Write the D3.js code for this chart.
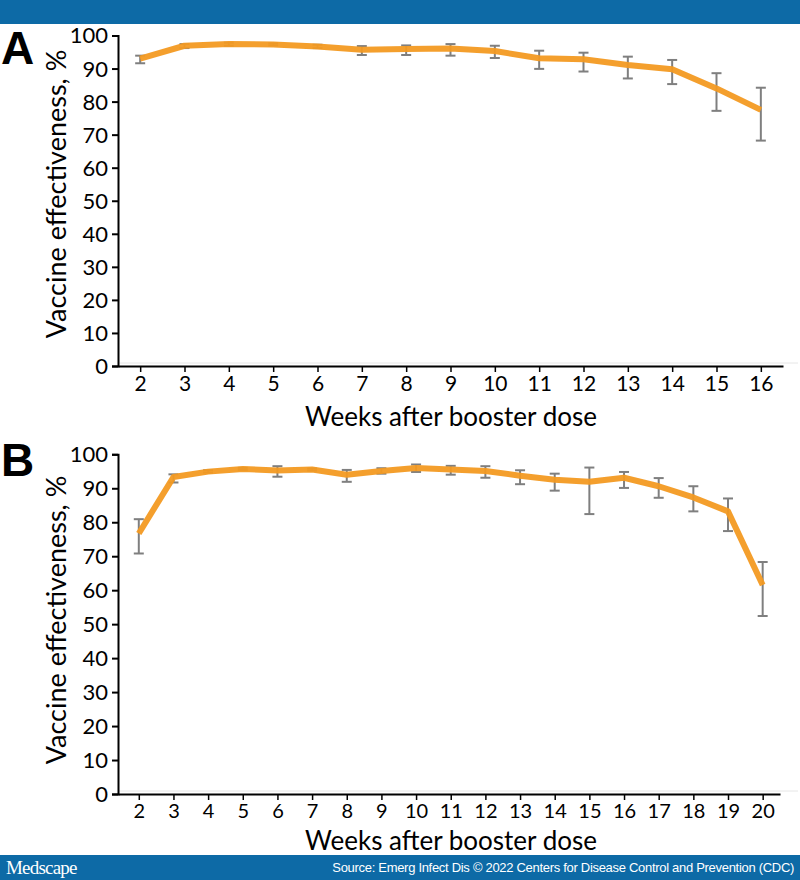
<!DOCTYPE html>
<html><head><meta charset="utf-8">
<script src="https://d3js.org/d3.v7.min.js"></script>
<style>body{margin:0;background:#fff}svg{display:block}</style>
</head><body>
<script>
// ---- Data ----
const weeksA = [2,3,4,5,6,7,8,9,10,11,12,13,14,15,16];
const veA    = [93.0,96.9,97.4,97.3,96.7,95.7,95.9,96.1,95.3,93.1,92.8,91.1,89.8,84.0,77.5];
const lowA   = [91.6,96.2,96.9,97.0,96.2,94.1,94.1,93.9,93.2,89.9,89.1,87.0,85.3,77.2,68.2];
const highA  = [93.9,97.4,97.8,97.6,97.2,96.8,97.0,97.4,96.9,95.4,94.8,93.6,92.6,88.6,84.2];

const weeksB = [2,3,4,5,6,7,8,9,10,11,12,13,14,15,16,17,18,19,20];
const veB    = [76.7,93.3,94.9,95.7,95.2,95.5,94.0,95.1,96.0,95.5,95.1,93.7,92.5,91.9,93.1,90.6,87.3,83.2,61.5];
const lowB   = [70.8,91.7,94.6,95.4,93.4,95.2,91.9,94.3,94.8,94.0,93.1,91.2,89.3,82.4,90.1,87.2,83.2,77.4,52.4];
const highB  = [80.9,94.1,95.3,96.0,96.5,95.8,95.4,95.9,97.0,96.6,96.5,95.3,94.3,96.1,94.8,93.0,90.6,87.0,68.3];

const yTicks = [0,10,20,30,40,50,60,70,80,90,100];
const yLabel = "Vaccine effectiveness, %";
const xLabel = "Weeks after booster dose";
const sourceText = "Source: Emerg Infect Dis © 2022 Centers for Disease Control and Prevention (CDC)";

const W = 800, H = 880;
const svg = d3.select("body").append("svg").attr("width", W).attr("height", H);
const FONT = "Lato, 'Open Sans', sans-serif";

// header / footer bars
svg.append("rect").attr("x",0).attr("y",0).attr("width",W).attr("height",24).attr("fill","#0d6aa6");
svg.append("rect").attr("x",0).attr("y",855).attr("width",W).attr("height",25).attr("fill","#0d6aa6");
svg.append("text").attr("x",6).attr("y",874).attr("fill","#fff")
  .attr("font-family","'Liberation Serif', serif").attr("font-size",19).attr("letter-spacing",-0.8).text("Medscape");
svg.append("text").attr("x",794).attr("y",872).attr("fill","#fff").attr("text-anchor","end")
  .attr("font-family","'Liberation Sans', Arial, sans-serif").attr("font-size",13).attr("letter-spacing",-0.3)
  .text(sourceText);

function panel(cfg){
  const {letter, letterY, weeks, ve, low, high, xDomain, xRange, yTop, yBottom, xLabelY, yLabelCY, tickFs} = cfg;
  const x = d3.scaleLinear().domain(xDomain).range(xRange);
  const y = d3.scaleLinear().domain([0,100]).range([yBottom, yTop]);
  const g = svg.append("g");

  g.append("text").attr("x",1).attr("y",letterY).attr("font-family","'Liberation Sans', Arial, sans-serif")
    .attr("font-weight","bold").attr("font-size",46).attr("fill","#000").text(letter);

  // faint zero reference line
  g.append("line").attr("x1",xRange[0]).attr("x2",798).attr("y1",y(0)-3).attr("y2",y(0)-3)
    .attr("stroke","#e6e6e6").attr("stroke-width",1);

  // y axis
  const ya = g.append("g").attr("transform",`translate(${xRange[0]},0)`)
    .call(d3.axisLeft(y).tickValues(yTicks).tickSize(6).tickPadding(4).tickSizeOuter(6));
  ya.select(".domain").attr("stroke","#000").attr("stroke-width",2);
  ya.selectAll(".tick line").attr("stroke","#000").attr("stroke-width",2);
  ya.selectAll(".tick text").attr("font-family",FONT).attr("font-size",22).attr("fill","#000").attr("dy","0.34em");

  // x axis
  const xa = g.append("g").attr("transform",`translate(0,${yBottom})`)
    .call(d3.axisBottom(x).tickValues(weeks).tickFormat(d3.format("d")).tickSize(6).tickSizeOuter(0).tickPadding(4));
  xa.select(".domain").attr("stroke","#000").attr("stroke-width",2);
  xa.selectAll(".tick line").attr("stroke","#000").attr("stroke-width",1.5);
  xa.selectAll(".tick text").attr("font-family",FONT).attr("font-size",tickFs).attr("fill","#000");

  // axis titles
  g.append("text").attr("transform",`translate(66,${yLabelCY}) rotate(-90)`).attr("text-anchor","middle")
    .attr("font-family",FONT).attr("font-size",27).attr("fill","#000").text(yLabel);
  g.append("text").attr("x",451).attr("y",xLabelY).attr("text-anchor","middle")
    .attr("font-family",FONT).attr("font-size",26).attr("fill","#000").text(xLabel);

  // error bars
  const eb = g.append("g").attr("stroke","#7f7f7f").attr("stroke-width",2);
  weeks.forEach((w,i)=>{
    eb.append("line").attr("x1",x(w)).attr("x2",x(w)).attr("y1",y(low[i])).attr("y2",y(high[i]));
    eb.append("line").attr("x1",x(w)-5).attr("x2",x(w)+5).attr("y1",y(low[i])).attr("y2",y(low[i]));
    eb.append("line").attr("x1",x(w)-5).attr("x2",x(w)+5).attr("y1",y(high[i])).attr("y2",y(high[i]));
  });

  // line
  const line = d3.line().x((d,i)=>x(weeks[i])).y(d=>y(d));
  g.append("path").datum(ve).attr("d",line).attr("fill","none")
    .attr("stroke","#f39a22").attr("stroke-width",6).attr("stroke-linejoin","round").attr("opacity",0.95);
}

panel({letter:"A", letterY:64, weeks:weeksA, ve:veA, low:lowA, high:highA, tickFs:21,
  xDomain:[1.5,16.5], xRange:[118,783], yTop:35.5, yBottom:366, xLabelY:426, yLabelCY:194});
panel({letter:"B", letterY:476, weeks:weeksB, ve:veB, low:lowB, high:highB, tickFs:20,
  xDomain:[1.4,20.5], xRange:[118,780], yTop:454.3, yBottom:794, xLabelY:850, yLabelCY:620});
</script>
</body></html>
